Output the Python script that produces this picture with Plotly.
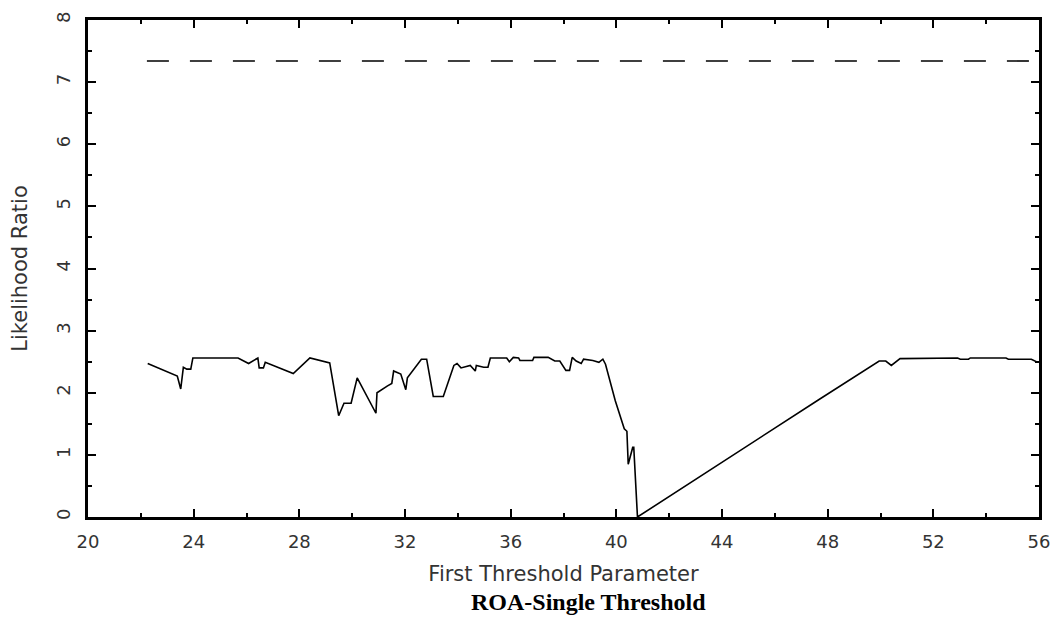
import plotly.graph_objects as go

# Likelihood ratio curve
threshold = [22.26, 23.38, 23.51, 23.61, 23.74, 23.89, 23.97, 25.68, 26.08, 26.43,
             26.48, 26.64, 26.71, 27.77, 28.40, 29.15, 29.49, 29.69, 29.96, 30.19,
             30.90, 30.94, 31.34, 31.50, 31.57, 31.84, 32.03, 32.09, 32.62, 32.82,
             33.07, 33.45, 33.85, 33.97, 34.12, 34.47, 34.66, 34.70, 34.98, 35.14,
             35.23, 35.85, 35.95, 36.10, 36.30, 36.35, 36.83, 36.88, 37.42, 37.67,
             37.86, 38.09, 38.23, 38.33, 38.48, 38.67, 38.76, 39.11, 39.34, 39.49,
             39.59, 39.96, 40.30, 40.40, 40.45, 40.62, 40.66, 40.80, 47.63, 49.95,
             50.20, 50.41, 50.74, 51.29, 51.37, 52.92, 53.02, 53.33, 53.40, 54.75,
             54.84, 55.71, 55.90, 56.00]
ratio = [2.47, 2.27, 2.06, 2.41, 2.38, 2.38, 2.56, 2.56, 2.47, 2.56,
         2.40, 2.40, 2.49, 2.31, 2.56, 2.48, 1.63, 1.83, 1.83, 2.24,
         1.67, 2.00, 2.11, 2.15, 2.35, 2.30, 2.05, 2.24, 2.54, 2.54,
         1.94, 1.94, 2.44, 2.47, 2.40, 2.44, 2.35, 2.44, 2.41, 2.41,
         2.56, 2.56, 2.50, 2.57, 2.56, 2.52, 2.52, 2.57, 2.57, 2.51,
         2.51, 2.36, 2.36, 2.57, 2.51, 2.47, 2.54, 2.52, 2.49, 2.54,
         2.46, 1.87, 1.42, 1.38, 0.85, 1.12, 1.12, 0.00, 1.88, 2.51,
         2.51, 2.44, 2.55, 2.55, 2.56, 2.56, 2.54, 2.54, 2.56, 2.56,
         2.54, 2.54, 2.50, 2.50]

# Critical value (dashed line)
critical_x = [22.23, 56.0]
critical_y = [7.34, 7.34]

x_ticks = [20, 24, 28, 32, 36, 40, 44, 48, 52, 56]
y_ticks = [0, 1, 2, 3, 4, 5, 6, 7, 8]

fig = go.Figure()
fig.add_trace(go.Scatter(x=threshold, y=ratio, mode="lines",
                         line=dict(color="black", width=1.6), showlegend=False))
fig.add_trace(go.Scatter(x=critical_x, y=critical_y, mode="lines",
                         line=dict(color="black", width=1.6, dash="22px,21px"),
                         showlegend=False))

tickfont = dict(family="DejaVu Sans", size=18, color="#333333")
titlefont = dict(family="DejaVu Sans", size=21, color="#333333")
fig.update_layout(
    width=1062, height=630,
    margin=dict(l=88, r=16, t=16, b=113),
    paper_bgcolor="white", plot_bgcolor="white",
    xaxis=dict(range=[20, 56], tickvals=x_ticks, ticktext=[str(v) for v in x_ticks],
               ticks="inside", ticklen=8, tickwidth=2, tickcolor="black",
               minor=dict(dtick=2, ticks="inside", ticklen=4, tickwidth=2, tickcolor="black"),
               showline=True, linecolor="black", linewidth=3, mirror="ticks",
               showgrid=False, zeroline=False, tickfont=tickfont,
               ticklabelstandoff=6,
               title=dict(text="First Threshold Parameter", font=titlefont,
                          standoff=16)),
    yaxis=dict(range=[0, 8], tickvals=y_ticks, ticktext=[str(v) for v in y_ticks],
               ticks="inside", ticklen=8, tickwidth=2, tickcolor="black",
               minor=dict(dtick=0.5, ticks="inside", ticklen=4, tickwidth=2, tickcolor="black"),
               showline=True, linecolor="black", linewidth=2.5, mirror="ticks",
               showgrid=False, zeroline=False, tickfont=tickfont, tickangle=-90,
               ticklabelstandoff=8,
               title=dict(text="Likelihood Ratio", font=titlefont,
                          standoff=20)),
    annotations=[dict(text="<b>ROA-Single Threshold</b>", xref="paper", yref="paper",
                      x=0.526, y=-0.172, xanchor="center", yanchor="middle",
                      showarrow=False,
                      font=dict(family="Liberation Serif", size=24, color="black"))],
)

fig.write_html("out.html")
